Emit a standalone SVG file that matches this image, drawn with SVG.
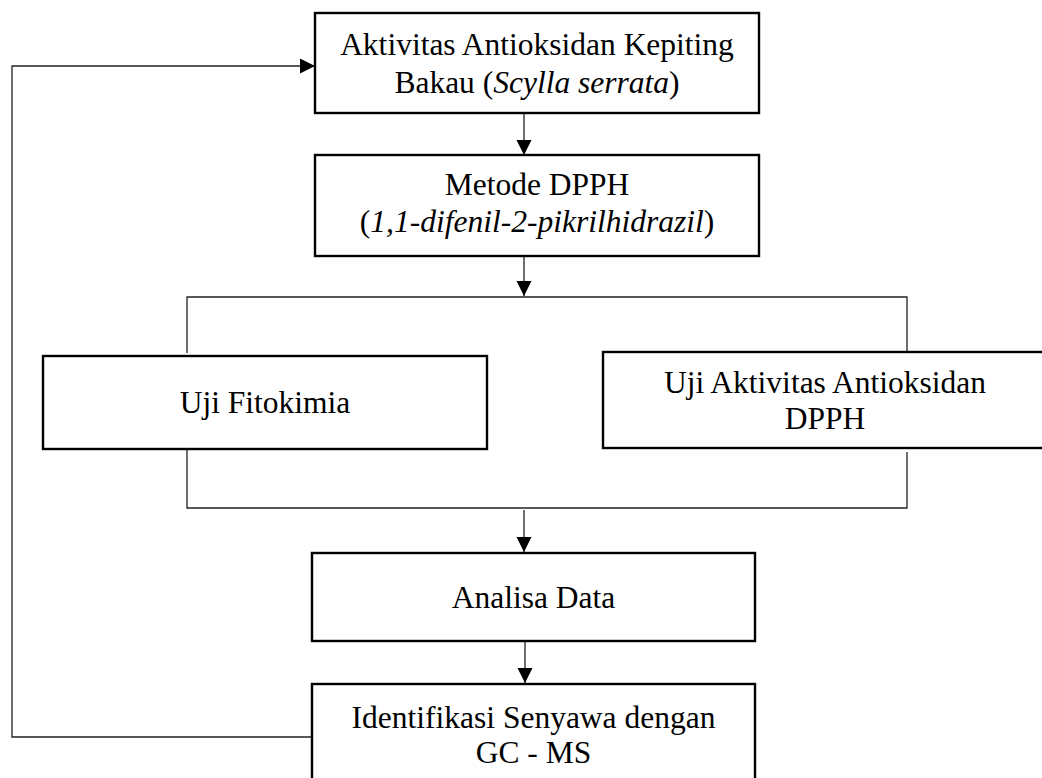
<svg xmlns="http://www.w3.org/2000/svg" width="1042" height="778" viewBox="0 0 1042 778">
<defs>
<marker id="arr" markerUnits="userSpaceOnUse" markerWidth="16" markerHeight="16" refX="15" refY="7.5" orient="auto">
<path d="M0,0 L15,7.5 L0,15 Z" fill="#000"/>
</marker>
<style>
.box{fill:#fff;stroke:#000;stroke-width:2.4}
.ln{fill:none;stroke:#222;stroke-width:1.3}
.t{font-family:"Liberation Serif","Times New Roman",serif;font-size:31.5px;fill:#000;text-anchor:middle}
.i{font-style:italic}
</style>
</defs>
<rect width="1042" height="778" fill="#fff"/>
<g id="connectors">
<path class="ln" d="M524,113 V155" marker-end="url(#arr)"/>
<path class="ln" d="M524,256 V296" marker-end="url(#arr)"/>
<path class="ln" d="M187,353 V297 H907 V351"/>
<path class="ln" d="M187,450 V508 H907 V452"/>
<path class="ln" d="M524,510 V552" marker-end="url(#arr)"/>
<path class="ln" d="M525,641 V683" marker-end="url(#arr)"/>
<path class="ln" d="M312,737 H12 V66 H315" marker-end="url(#arr)"/>
</g>
<g id="n1">
<rect class="box" x="315" y="13" width="444" height="100"/>
<text class="t" x="537" y="55">Aktivitas Antioksidan Kepiting</text>
<text class="t" x="537" y="93">Bakau (<tspan class="i">Scylla serrata</tspan>)</text>
</g>
<g id="n2">
<rect class="box" x="315" y="155" width="444" height="101"/>
<text class="t" x="537" y="195">Metode DPPH</text>
<text class="t" x="537" y="232">(<tspan class="i">1,1-difenil-2-pikrilhidrazil</tspan>)</text>
</g>
<g id="n3">
<rect class="box" x="43" y="356" width="444" height="93"/>
<text class="t" x="265" y="413">Uji Fitokimia</text>
</g>
<g id="n4">
<rect class="box" x="603" y="352" width="450" height="96"/>
<text class="t" x="825" y="393">Uji Aktivitas Antioksidan</text>
<text class="t" x="825" y="429">DPPH</text>
</g>
<g id="n5">
<rect class="box" x="312" y="553" width="443" height="88"/>
<text class="t" x="533.5" y="608">Analisa Data</text>
</g>
<g id="n6">
<rect class="box" x="312" y="684" width="443" height="120"/>
<text class="t" x="533.5" y="728">Identifikasi Senyawa dengan</text>
<text class="t" x="533.5" y="763">GC - MS</text>
</g>
</svg>
